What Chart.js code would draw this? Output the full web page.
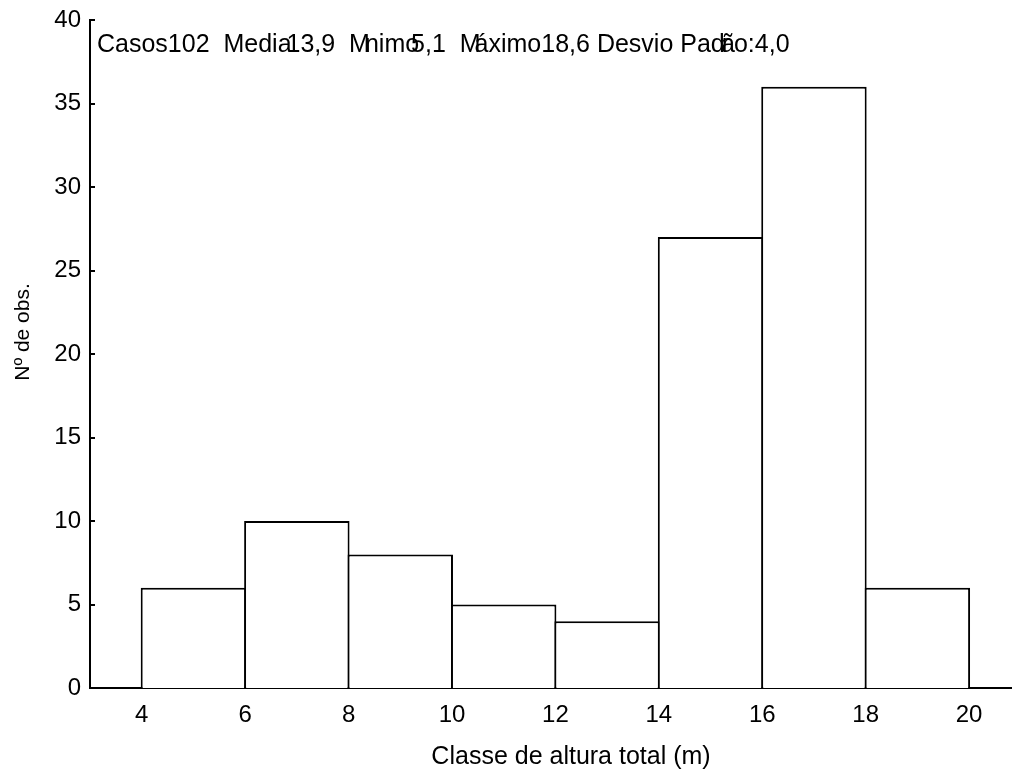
<!DOCTYPE html>
<html>
<head>
<meta charset="utf-8">
<title>Classe de altura total</title>
<script src="https://cdn.jsdelivr.net/npm/chart.js@4.4.1/dist/chart.umd.min.js"></script>
<style>
  html, body { margin: 0; padding: 0; background: #ffffff; overflow: hidden; }
  #wrap { width: 1012px; height: 771px; }
</style>
</head>
<body>
<div id="wrap"><canvas id="chart" width="1012" height="771"></canvas></div>
<script>
// Histogram: class edges (m) and number of observations per class
const binEdges = [4, 6, 8, 10, 12, 14, 16, 18, 20];
const counts = [6, 10, 8, 5, 4, 27, 36, 6];

// Axis tick values
const xTickValues = [4, 6, 8, 10, 12, 14, 16, 18, 20];
const yTickValues = [0, 5, 10, 15, 20, 25, 30, 35, 40];

// Axis titles
const xTitle = 'Classe de altura total (m)';
const yTitle = 'Nº de obs.';

// Summary line, drawn as runs; the number is a shift (px) before each run
const statsRuns = [
  ['Casos102  Media', 0],
  ['13,9  M', -5],
  ['nimo', -5],
  ['5,1  M', -8],
  ['áximo18,6 Desvio Pad', -6],
  ['r', -3],
  ['ã', -9],
  ['o:4,0', -1]
];

const FONT = '"Liberation Sans", Arial, Helvetica, sans-serif';

const barData = counts.map((c, i) => ({ x: (binEdges[i] + binEdges[i + 1]) / 2, y: c }));

// Short tick marks pointing into the plot from the vertical axis
const innerTicks = {
  id: 'innerTicks',
  afterDraw(chart) {
    const { ctx } = chart;
    const y = chart.scales.y;
    const x0 = chart.chartArea.left;
    ctx.save();
    ctx.strokeStyle = '#000';
    ctx.lineWidth = 2;
    yTickValues.forEach(v => {
      const py = Math.round(y.getPixelForValue(v));
      ctx.beginPath();
      ctx.moveTo(x0, py);
      ctx.lineTo(x0 + 5, py);
      ctx.stroke();
    });
    ctx.restore();
  }
};

// Axis titles and the summary line
const texts = {
  id: 'texts',
  afterDraw(chart) {
    const { ctx } = chart;
    const area = chart.chartArea;
    ctx.save();
    ctx.fillStyle = '#000';
    ctx.textBaseline = 'alphabetic';

    // x title
    ctx.font = '25px ' + FONT;
    ctx.textAlign = 'center';
    ctx.fillText(xTitle, 571, 764);

    // y title
    ctx.save();
    ctx.font = '21px ' + FONT;
    ctx.translate(29, 332);
    ctx.rotate(-Math.PI / 2);
    ctx.textAlign = 'center';
    ctx.fillText(yTitle, 0, 0);
    ctx.restore();

    // summary line
    ctx.font = '25px ' + FONT;
    ctx.textAlign = 'left';
    let x = area.left + 7;
    const base = 52;
    statsRuns.forEach(([t, shift]) => {
      x += shift;
      ctx.fillText(t, x, base);
      x += ctx.measureText(t).width;
    });
    ctx.restore();
  }
};

new Chart(document.getElementById('chart'), {
  type: 'bar',
  data: {
    datasets: [{
      data: barData,
      backgroundColor: '#ffffff',
      borderColor: '#000000',
      borderWidth: 2,
      borderSkipped: 'start',
      // a touch wider than the class so neighbouring outlines overlap into one line
      barPercentage: 1.0195,
      categoryPercentage: 1,
      inflateAmount: 0
    }]
  },
  options: {
    responsive: false,
    devicePixelRatio: 1,
    animation: false,
    layout: { padding: { top: 20, right: 0, bottom: 0, left: 0 } },
    plugins: { legend: { display: false }, tooltip: { enabled: false } },
    scales: {
      x: {
        type: 'linear',
        offset: false,
        min: 3,
        max: 20.83,
        afterBuildTicks: s => { s.ticks = xTickValues.map(v => ({ value: v })); },
        afterFit: s => { s.height = 83; },
        grid: { display: false, drawTicks: false },
        border: { display: true, color: '#000', width: 2 },
        ticks: { color: '#000', font: { family: FONT, size: 24 }, padding: 13, maxRotation: 0, autoSkip: false }
      },
      y: {
        min: 0,
        max: 40,
        afterBuildTicks: s => { s.ticks = yTickValues.map(v => ({ value: v })); },
        afterFit: s => { s.width = 90; s.paddingTop = 0; s.paddingBottom = 0; },
        grid: { display: false, drawTicks: false },
        border: { display: true, color: '#000', width: 2 },
        ticks: { color: '#000', font: { family: FONT, size: 24 }, padding: 9 }
      }
    }
  },
  plugins: [innerTicks, texts]
});
</script>
</body>
</html>
